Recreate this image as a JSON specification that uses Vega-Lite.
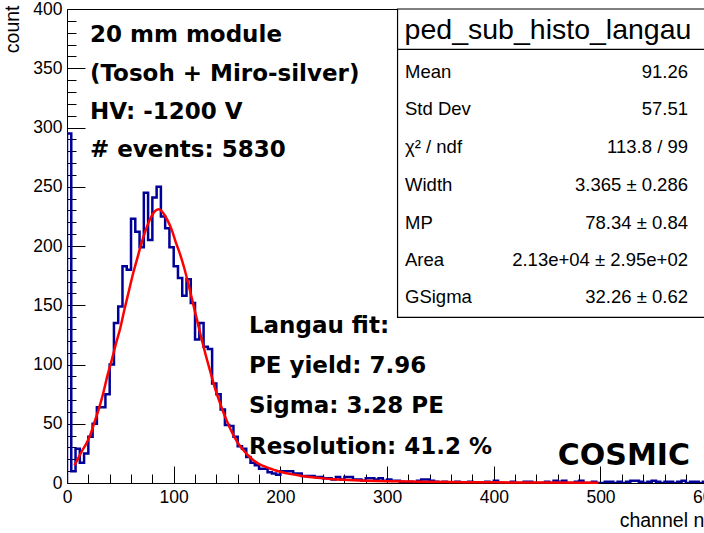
{
 "$schema": "https://vega.github.io/schema/vega-lite/v6.json",
 "width": 653, "height": 474,
 "autosize": {"type": "none"},
 "padding": {"left": 67, "top": 9, "right": 0, "bottom": 50},
 "background": "white",
 "config": {
  "view": {"stroke": "black", "strokeWidth": 1},
  "axis": {"grid": false, "domain": false, "labelFont": "Liberation Sans", "titleFont": "Liberation Sans", "labelColor": "black", "titleColor": "black", "tickColor": "black", "labelFlush": false, "labelOverlap": false, "labelBound": false, "titleFontWeight": "normal", "zindex": 1}
 },
 "datasets": {
  "hist": [
   {"x":0,"n":0},{"x":0,"n":295},{"x":4,"n":10},{"x":8,"n":29},{"x":12,"n":17},{"x":16,"n":25},{"x":20,"n":39},{"x":24,"n":50},{"x":28,"n":64},{"x":32,"n":64},{"x":36,"n":75},
   {"x":40,"n":100},{"x":44,"n":135},{"x":48,"n":149},{"x":52,"n":183},{"x":56,"n":180},{"x":60,"n":223},{"x":64,"n":212},{"x":68,"n":199},{"x":72,"n":245},{"x":76,"n":205},
   {"x":80,"n":241},{"x":84,"n":250},{"x":88,"n":225},{"x":92,"n":215},{"x":96,"n":199},{"x":100,"n":183},{"x":104,"n":173},{"x":108,"n":158},{"x":112,"n":172},{"x":116,"n":152},
   {"x":120,"n":121},{"x":124,"n":135},{"x":128,"n":115},{"x":132,"n":113},{"x":136,"n":84},{"x":140,"n":75},{"x":144,"n":62},{"x":148,"n":49},{"x":152,"n":48},{"x":156,"n":39},
   {"x":160,"n":31},{"x":164,"n":29},{"x":168,"n":22},{"x":172,"n":17},{"x":176,"n":15},{"x":180,"n":12},{"x":184,"n":12},{"x":188,"n":9},{"x":192,"n":8},{"x":196,"n":7},
   {"x":200,"n":10},{"x":204,"n":10},{"x":208,"n":10},{"x":212,"n":8},{"x":216,"n":8},{"x":220,"n":6},{"x":224,"n":6},{"x":228,"n":6},{"x":232,"n":5},{"x":236,"n":5},
   {"x":240,"n":4},{"x":244,"n":4},{"x":248,"n":3},{"x":252,"n":5},{"x":256,"n":3},{"x":260,"n":5},{"x":264,"n":5},{"x":268,"n":3},{"x":272,"n":3},{"x":276,"n":2},
   {"x":280,"n":4},{"x":284,"n":4},{"x":288,"n":3},{"x":292,"n":4},{"x":296,"n":2},{"x":300,"n":3},{"x":304,"n":2},{"x":308,"n":2},{"x":312,"n":1},{"x":316,"n":0},
   {"x":320,"n":1},{"x":324,"n":0},{"x":328,"n":2},{"x":332,"n":3},{"x":336,"n":3},{"x":340,"n":2},{"x":344,"n":1},{"x":348,"n":0},{"x":352,"n":1},{"x":356,"n":0},
   {"x":360,"n":0},{"x":364,"n":1},{"x":368,"n":0},{"x":372,"n":0},{"x":376,"n":1},{"x":380,"n":0},{"x":384,"n":0},{"x":388,"n":0},{"x":392,"n":1},{"x":396,"n":0},
   {"x":400,"n":2},{"x":404,"n":0},{"x":408,"n":0},{"x":412,"n":0},{"x":416,"n":1},{"x":420,"n":0},{"x":424,"n":0},{"x":428,"n":1},{"x":432,"n":1},{"x":436,"n":0},
   {"x":440,"n":0},{"x":444,"n":0},{"x":448,"n":1},{"x":452,"n":0},{"x":456,"n":2},{"x":460,"n":1},{"x":464,"n":2},{"x":468,"n":0},{"x":472,"n":0},{"x":476,"n":1},
   {"x":480,"n":2},{"x":484,"n":0},{"x":488,"n":0},{"x":492,"n":1},{"x":496,"n":0},{"x":500,"n":0},{"x":504,"n":1},{"x":508,"n":1},{"x":512,"n":0},{"x":516,"n":1},
   {"x":520,"n":0},{"x":524,"n":1},{"x":528,"n":2},{"x":532,"n":2},{"x":536,"n":1},{"x":540,"n":0},{"x":544,"n":1},{"x":548,"n":2},{"x":552,"n":1},{"x":556,"n":0},
   {"x":560,"n":1},{"x":564,"n":1},{"x":568,"n":0},{"x":572,"n":1},{"x":576,"n":2},{"x":580,"n":0},{"x":584,"n":1},{"x":588,"n":1},{"x":592,"n":0},{"x":596,"n":1},
   {"x":600,"n":1},{"x":604,"n":0},{"x":608,"n":1},{"x":612,"n":1}
  ],
  "fit": [
   {"x":7,"y":15},{"x":10,"y":20},{"x":14,"y":27},{"x":18,"y":33},{"x":22,"y":41},{"x":26,"y":52},{"x":30,"y":63},{"x":34,"y":76},{"x":38,"y":91},{"x":42,"y":104},
   {"x":46,"y":118},{"x":50,"y":131},{"x":54,"y":147},{"x":58,"y":162},{"x":62,"y":177},{"x":66,"y":190},{"x":70,"y":203},{"x":74,"y":214},{"x":78,"y":223},{"x":82,"y":229},
   {"x":86,"y":231},{"x":90,"y":228},{"x":94,"y":222},{"x":98,"y":214},{"x":102,"y":203},{"x":106,"y":193},{"x":110,"y":181},{"x":114,"y":167},{"x":118,"y":152},{"x":122,"y":137},
   {"x":126,"y":122},{"x":130,"y":108},{"x":134,"y":95},{"x":138,"y":82},{"x":142,"y":71},{"x":146,"y":61},{"x":150,"y":52},{"x":155,"y":42},{"x":160,"y":34},{"x":165,"y":28},
   {"x":170,"y":23},{"x":175,"y":19},{"x":180,"y":16},{"x":185,"y":14},{"x":190,"y":12.2},{"x":195,"y":10.8},{"x":200,"y":9.5},{"x":210,"y":7.5},{"x":220,"y":6},{"x":230,"y":4.8},
   {"x":240,"y":3.9},{"x":250,"y":3.2},{"x":260,"y":2.7},{"x":280,"y":2},{"x":300,"y":1.5},{"x":330,"y":1.1},{"x":360,"y":0.8},{"x":400,"y":0.55},{"x":450,"y":0.35},{"x":498,"y":0.25}
  ],
  "notes": [
   {"x":21.5,"y":378,"t":"20 mm module"},
   {"x":21.5,"y":345,"t":"(Tosoh + Miro-silver)"},
   {"x":21.5,"y":313,"t":"HV: -1200 V"},
   {"x":21.5,"y":281,"t":"# events: 5830"},
   {"x":170.5,"y":132.5,"t":"Langau fit:"},
   {"x":170.5,"y":98.7,"t":"PE yield: 7.96"},
   {"x":170.5,"y":65,"t":"Sigma: 3.28 PE"},
   {"x":170.5,"y":30.4,"t":"Resolution: 41.2 %"}
  ],
  "cosmic": [{"x":460,"y":22.8,"t":"COSMIC"}],
  "box": [{"x1":309.8,"x2":612,"y1":139.8,"y2":400}],
  "sep": [{"x1":309.8,"x2":612,"y":366}],
  "stitle": [{"x":450.8,"y":382.3,"t":"ped_sub_histo_langau"}],
  "stats": [
   {"lx":316.8,"rx":582,"y":346.8,"l":"Mean","v":"91.26"},
   {"lx":316.8,"rx":582,"y":315.2,"l":"Std Dev","v":"57.51"},
   {"lx":316.8,"rx":582,"y":283.5,"l":"χ² / ndf","v":"113.8 / 99"},
   {"lx":316.8,"rx":582,"y":251.5,"l":"Width","v":"3.365 ± 0.286"},
   {"lx":316.8,"rx":582,"y":219.4,"l":"MP","v":"78.34 ± 0.84"},
   {"lx":316.8,"rx":582,"y":188.2,"l":"Area","v":"2.13e+04 ± 2.95e+02"},
   {"lx":316.8,"rx":582,"y":157,"l":"GSigma","v":"32.26 ± 0.62"}
  ]
 },
 "layer": [
  {
   "data": {"name": "hist"},
   "mark": {"type": "line", "interpolate": "step-after", "color": "#000099", "strokeWidth": 2.5, "clip": true},
   "encoding": {
    "x": {"field": "x", "type": "quantitative", "scale": {"domain": [0, 612], "nice": false, "zero": false},
          "axis": {"orient": "bottom", "values": [0,100,200,300,400,500,600], "ticks": false, "labelFontSize": 17.5, "labelPadding": 5, "format": "d",
                   "title": "channel no.", "titleFontSize": 19.5, "titleAnchor": "end", "titleAlign": "right", "titleBaseline": "alphabetic", "titleY": 43}},
    "y": {"field": "n", "type": "quantitative", "scale": {"domain": [0, 400], "nice": false},
          "axis": {"orient": "left", "values": [0,50,100,150,200,250,300,350,400], "ticks": false, "labelFontSize": 17.5, "labelPadding": 5, "format": "d",
                   "title": "count", "titleFontSize": 19.5, "titleAnchor": "end", "titleAngle": -90, "titleAlign": "right", "titleBaseline": "middle", "titleX": -55, "titleY": -4}}
   }
  },
  {
   "data": {"name": "fit"},
   "mark": {"type": "line", "interpolate": "monotone", "color": "#ff0000", "strokeWidth": 2.5},
   "encoding": {
    "x": {"field": "x", "type": "quantitative", "scale": {"domain": [0, 612], "nice": false, "zero": false},
          "axis": {"orient": "bottom", "values": [0,100,200,300,400,500,600], "labels": false, "tickSize": -17, "tickWidth": 1, "title": null}},
    "y": {"field": "y", "type": "quantitative", "scale": {"domain": [0, 400], "nice": false},
          "axis": {"orient": "left", "values": [0,50,100,150,200,250,300,350,400], "labels": false, "tickSize": -18, "tickWidth": 1, "title": null}}
   }
  },
  {
   "data": {"name": "box"},
   "mark": {"type": "rect", "fill": "white", "stroke": "black", "strokeWidth": 1.2},
   "encoding": {
    "x": {"field": "x1", "type": "quantitative", "scale": {"domain": [0, 612], "nice": false, "zero": false},
          "axis": {"orient": "bottom", "values": [20,40,60,80,120,140,160,180,220,240,260,280,320,340,360,380,420,440,460,480,520,540,560,580,620], "labels": false, "tickSize": -9, "tickWidth": 1, "title": null}},
    "x2": {"field": "x2"},
    "y": {"field": "y1", "type": "quantitative", "scale": {"domain": [0, 400], "nice": false},
          "axis": {"orient": "left", "values": [10,20,30,40,60,70,80,90,110,120,130,140,160,170,180,190,210,220,230,240,260,270,280,290,310,320,330,340,360,370,380,390], "labels": false, "tickSize": -9, "tickWidth": 1, "title": null}},
    "y2": {"field": "y2"}
   }
  },
  {
   "data": {"name": "sep"},
   "mark": {"type": "rule", "color": "black", "strokeWidth": 1.2},
   "encoding": {
    "x": {"field": "x1", "type": "quantitative", "axis": null},
    "x2": {"field": "x2"},
    "y": {"field": "y", "type": "quantitative", "axis": null}
   }
  },
  {
   "data": {"name": "stitle"},
   "mark": {"type": "text", "font": "Liberation Sans", "fontSize": 28.5, "align": "center", "baseline": "middle", "color": "black"},
   "encoding": {
    "x": {"field": "x", "type": "quantitative", "axis": null},
    "y": {"field": "y", "type": "quantitative", "axis": null},
    "text": {"field": "t"}
   }
  },
  {
   "data": {"name": "stats"},
   "mark": {"type": "text", "font": "Liberation Sans", "fontSize": 18.5, "align": "left", "baseline": "middle", "color": "black"},
   "encoding": {
    "x": {"field": "lx", "type": "quantitative", "axis": null},
    "y": {"field": "y", "type": "quantitative", "axis": null},
    "text": {"field": "l"}
   }
  },
  {
   "data": {"name": "stats"},
   "mark": {"type": "text", "font": "Liberation Sans", "fontSize": 18.5, "align": "right", "baseline": "middle", "color": "black"},
   "encoding": {
    "x": {"field": "rx", "type": "quantitative", "axis": null},
    "y": {"field": "y", "type": "quantitative", "axis": null},
    "text": {"field": "v"}
   }
  },
  {
   "data": {"name": "notes"},
   "mark": {"type": "text", "font": "DejaVu Sans", "fontWeight": "bold", "fontSize": 23, "align": "left", "baseline": "middle", "color": "black"},
   "encoding": {
    "x": {"field": "x", "type": "quantitative", "axis": null},
    "y": {"field": "y", "type": "quantitative", "axis": null},
    "text": {"field": "t"}
   }
  },
  {
   "data": {"name": "cosmic"},
   "mark": {"type": "text", "font": "DejaVu Sans", "fontWeight": "bold", "fontSize": 30, "align": "left", "baseline": "middle", "color": "black"},
   "encoding": {
    "x": {"field": "x", "type": "quantitative", "axis": null},
    "y": {"field": "y", "type": "quantitative", "axis": null},
    "text": {"field": "t"}
   }
  }
 ],
 "resolve": {"axis": {"x": "independent", "y": "independent"}}
}
